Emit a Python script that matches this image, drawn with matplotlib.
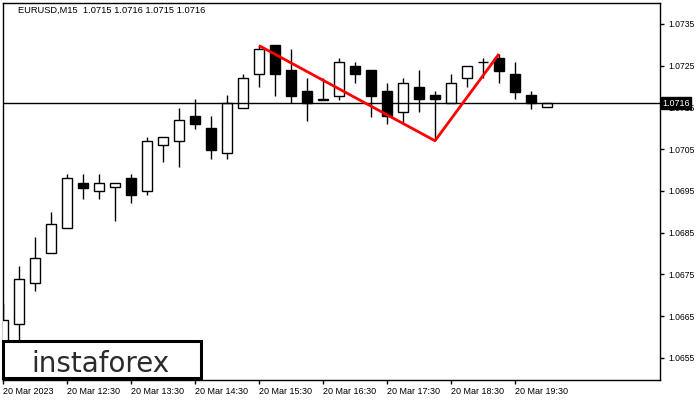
import matplotlib
matplotlib.use("Agg")
import matplotlib.pyplot as plt
from matplotlib.patches import Rectangle
import matplotlib.transforms as mtransforms
import numpy as np

# ---- data ----
tick_labels = ["20 Mar 2023", "20 Mar 12:30", "20 Mar 13:30", "20 Mar 14:30",
               "20 Mar 15:30", "20 Mar 16:30", "20 Mar 17:30", "20 Mar 18:30",
               "20 Mar 19:30"]
opens = [1.06580, 1.06631, 1.06729, 1.06801, 1.06861, 1.06970, 1.06949, 1.06959,
         1.06980, 1.06949, 1.07059, 1.07069, 1.07129, 1.07100, 1.07040, 1.07148,
         1.07230, 1.07300, 1.07240, 1.07190, 1.07168, 1.07178, 1.07249, 1.07240,
         1.07190, 1.07139, 1.07198, 1.07179, 1.07161, 1.07220, 1.07258, 1.07269,
         1.07230, 1.07179, 1.07150]
highs = [1.06682, 1.06770, 1.06839, 1.06899, 1.06991, 1.06991, 1.06991, 1.06970,
         1.06991, 1.07079, 1.07079, 1.07148, 1.07170, 1.07129, 1.07180, 1.07230,
         1.07300, 1.07300, 1.07290, 1.07220, 1.07220, 1.07269, 1.07259, 1.07240,
         1.07209, 1.07220, 1.07240, 1.07190, 1.07230, 1.07249, 1.07269, 1.07278,
         1.07258, 1.07190, 1.07160]
lows = [1.06540, 1.06580, 1.06709, 1.06801, 1.06861, 1.06930, 1.06930, 1.06879,
        1.06921, 1.06940, 1.07018, 1.07008, 1.07099, 1.07027, 1.07027, 1.07148,
        1.07198, 1.07178, 1.07160, 1.07118, 1.07168, 1.07168, 1.07208, 1.07128,
        1.07110, 1.07112, 1.07139, 1.07072, 1.07161, 1.07198, 1.07220, 1.07208,
        1.07169, 1.07147, 1.07150]
closes = [1.06641, 1.06739, 1.06789, 1.06870, 1.06980, 1.06958, 1.06968, 1.06970,
          1.06939, 1.07069, 1.07079, 1.07119, 1.07109, 1.07049, 1.07160, 1.07220,
          1.07289, 1.07230, 1.07178, 1.07160, 1.07170, 1.07258, 1.07230, 1.07178,
          1.07130, 1.07208, 1.07169, 1.07169, 1.07208, 1.07249, 1.07258, 1.07238,
          1.07188, 1.07161, 1.07160]
pattern_idx = [16, 27, 31]
pattern_price = [1.07298, 1.07070, 1.07278]
current_price = 1.0716
y_ticks = [1.0655, 1.0665, 1.0675, 1.0685, 1.0695, 1.0705, 1.0715, 1.0725, 1.0735]
title = "EURUSD,M15  1.0715 1.0716 1.0715 1.0716"

# ---- figure ----
FONT = "Liberation Sans"
fig = plt.figure(figsize=(7, 4), dpi=100, facecolor="white")
ax = fig.add_axes([3/700, 20/400, 657/700, 377/400])
ax.set_facecolor("white")

n = len(opens)
x = np.arange(n)
o = np.array(opens); h = np.array(highs); l = np.array(lows); c = np.array(closes)

ax.vlines(x, l, h, color="black", linewidth=1.0, zorder=2)
bottoms = np.minimum(o, c)
heights = np.maximum(np.abs(c - o), 1e-7)
faces = ["white" if cc >= oo else "black" for oo, cc in zip(o, c)]
ax.bar(x, heights, bottom=bottoms, width=0.58, color=faces, edgecolor="black",
       linewidth=1.0, zorder=3)

ax.axhline(current_price, color="black", linewidth=1.0, zorder=4)
ax.plot(pattern_idx, pattern_price, color="#ff0000", linewidth=2.0, zorder=5,
        solid_capstyle="butt")

ax.set_xlim(0, 657/16)
ax.set_ylim(1.06497, 1.07400)

ax.set_xticks(x[::4][:len(tick_labels)])
ax.set_xticklabels(tick_labels, ha="left", fontsize=6.5, family=FONT)
ax.tick_params(axis="x", direction="out", length=3, width=1, pad=2, colors="black")

ax.yaxis.tick_right()
ax.set_yticks(y_ticks)
ax.set_yticklabels([f"{v:.4f}" for v in y_ticks], fontsize=6.2, family=FONT)
ax.tick_params(axis="y", direction="out", length=3, width=1, pad=3, colors="black")

for s in ax.spines.values():
    s.set_color("black")
    s.set_linewidth(1.0)

# current price label
trans = mtransforms.blended_transform_factory(ax.transAxes, ax.transData)
ax.text(1.0035, current_price, "1.0716", transform=trans, ha="left", va="center",
        fontsize=6.5, family=FONT, color="white", clip_on=False, zorder=10,
        bbox=dict(boxstyle="square,pad=0.15", facecolor="black", edgecolor="black"))

# title
fig.text(18/700, 1 - 10.5/400, title, ha="left", va="center", fontsize=6.7,
         family=FONT, color="black")

# instaforex logo
fig.add_artist(Rectangle((3/700, 22/400), 198/700, 37/400, transform=fig.transFigure,
                         facecolor="white", edgecolor="black", linewidth=2.2, zorder=20))
fig.text(100.5/700, 1 - 372/400, "instaforex", ha="center", va="baseline",
         fontsize=20, family="DejaVu Sans", color="#2b2b2b", zorder=21)

fig.savefig("out.png", dpi=100, facecolor="white")
